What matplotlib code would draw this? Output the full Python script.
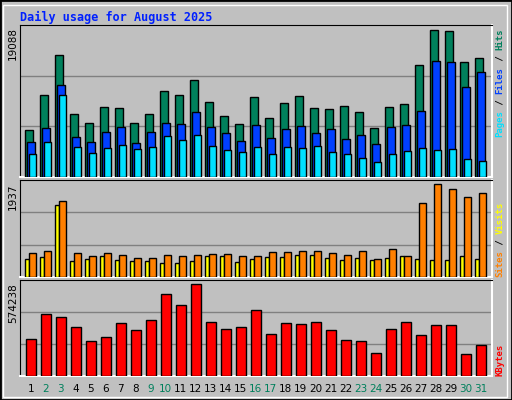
import matplotlib
matplotlib.use("Agg")
import matplotlib.pyplot as plt
from matplotlib.patches import Rectangle
import numpy as np

days = list(range(1, 32))
weekend = [2, 3, 9, 10, 16, 17, 23, 24, 30, 31]
hits = [6133,10668,15851,8206,7040,9113,8984,7040,8206,11186,10668,12611,9761,7947,6910,10409,
        7688,9631,10538,8984,8854,9243,8465,6392,9113,9502,14555,19088,18960,14944,15462]
files = [4578,6392,11964,5226,4578,5874,6522,4449,5874,7040,6910,8465,6522,5744,4708,6781,
         5096,6263,6651,5744,6263,4967,5485,4319,6522,6781,8595,15073,14944,11704,13648]
pages = [3023,4578,10668,3930,3153,3801,4189,3671,3930,5356,4837,5485,4060,3542,3282,3930,
         3023,3930,3801,4060,3282,3023,2505,1987,3023,3412,3801,3542,3671,2375,2116]
visits = [510,552,1580,510,447,510,468,405,405,468,447,468,489,489,447,447,531,531,552,552,
          510,468,552,384,594,447,1538,1937,1831,1664,1748]
sites = [384,426,1496,342,384,447,363,342,342,300,300,342,447,447,321,384,426,426,468,468,
         405,363,405,363,405,447,384,363,363,447,384]
kbytes = [234730,385630,366770,303890,222150,247300,329040,291320,347900,511380,442210,574238,
          335330,297600,303890,410780,266170,329040,322750,335330,291320,228440,222150,146710,
          297600,335330,259880,316470,316470,140420,197010]

BG = "#C0C0C0"
W, H = 512, 400
fig = plt.figure(figsize=(5.12, 4.0), dpi=100, facecolor=BG)
fig.patches.append(Rectangle((0, 0), 1, 1, transform=fig.transFigure, fill=False,
                             edgecolor="black", linewidth=2))
fig.patches.append(Rectangle((3/W, 3/H), 1-8/W, 1-8/H, transform=fig.transFigure, fill=False,
                             edgecolor="white", linewidth=1))
mono = "DejaVu Sans Mono"
XMAX = 31.47

def mkax(top, bottom):
    ax = fig.add_axes([20/W, 1-bottom/H, 472/W, (bottom-top)/H])
    ax.set_facecolor(BG)
    ax.set_xlim(0, XMAX)
    ax.set_xticks([]); ax.set_yticks([])
    for s in ["left", "top"]:
        ax.spines[s].set_color("black")
    for s in ["right", "bottom"]:
        ax.spines[s].set_color("white"); ax.spines[s].set_linewidth(1.5)
    return ax

x = np.arange(31)
ek = dict(edgecolor="black", linewidth=1, align="edge", zorder=3)

ax1 = mkax(25, 177)
ym1 = 19697
ax1.set_ylim(0, ym1)
for f in (1/3, 2/3):
    ax1.axhline(ym1*f, color="#808080", lw=1, zorder=1)
ax1.bar(x+0.35, hits, 0.53, color="#00805C", **ek)
ax1.bar(x+0.46, files, 0.53, color="#0040FF", **ek)
ax1.bar(x+0.59, pages, 0.50, color="#00E0FF", **ek)

ax2 = mkax(180, 277)
ym2 = 2028
ax2.set_ylim(0, ym2)
for f in (1/3, 2/3):
    ax2.axhline(ym2*f, color="#808080", lw=1, zorder=1)
ax2.bar(x+0.35, sites, 0.27, color="#FFFF00", **ek)
ax2.bar(x+0.61, visits, 0.48, color="#FF8000", **ek)

ax3 = mkax(280, 376)
ym3 = 601500
ax3.set_ylim(0, ym3)
for f in (1/3, 2/3):
    ax3.axhline(ym3*f, color="#808080", lw=1, zorder=1)
ax3.bar(x+0.41, kbytes, 0.66, color="#FF0000", **ek)
for i, d in enumerate(days):
    ax3.text(i+0.72, -0.08, str(d), transform=ax3.get_xaxis_transform(), ha="center", va="top",
             fontsize=7.5, color="#00805C" if d in weekend else "black", family="DejaVu Sans")

fig.text(20/W, 1-17/H, "Daily usage for August 2025", color="#0020FF", family=mono,
         fontweight="bold", fontsize=8.5, va="center", ha="left")

for lab, ytop in (("19088", 27), ("1937", 183), ("574238", 283)):
    fig.text(13/W, 1-ytop/H, lab, rotation=90, va="top", ha="center", fontsize=7.5,
             family="DejaVu Sans")

FS = 6.5
STEP = 0.602 * FS * 100 / 72

def side(pieces, ybottom):
    y = ybottom
    for txt, col in pieces:
        fig.text(500/W, 1-y/H, txt, rotation=90, va="bottom", ha="center", color=col,
                 family=mono, fontsize=FS, fontweight="bold")
        y -= STEP*len(txt)

side([("Pages", "#00E0FF"), (" / ", "black"), ("Files", "#0040FF"), (" / ", "black"),
      ("Hits", "#00805C")], 137)
side([("Sites", "#FF8000"), (" / ", "black"), ("Visits", "#FFFF00")], 277)
side([("KBytes", "#FF0000")], 376)

fig.savefig("out.png", dpi=100, facecolor=BG)
